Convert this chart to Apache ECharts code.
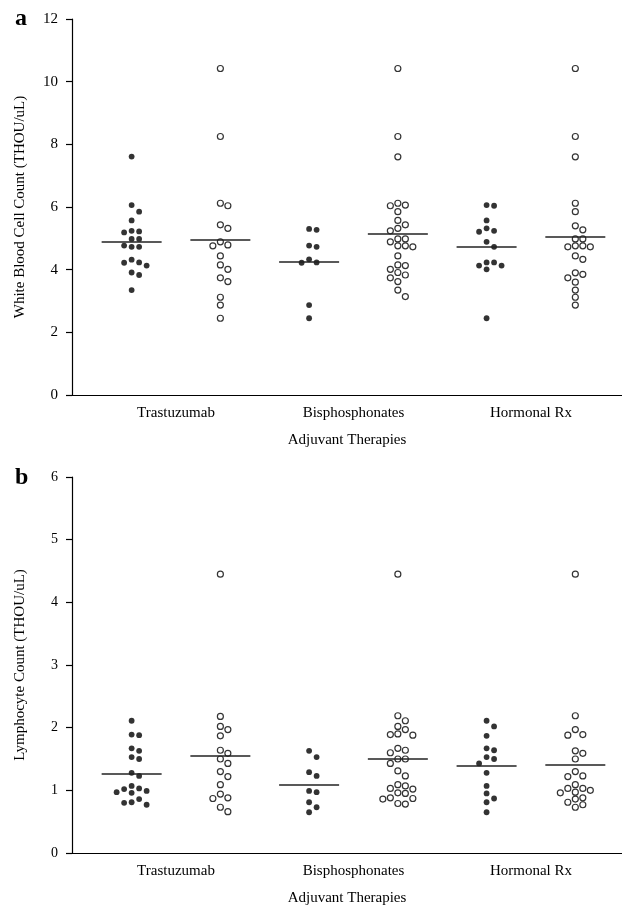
<!DOCTYPE html>
<html>
<head>
<meta charset="utf-8">
<script src="https://cdn.jsdelivr.net/npm/echarts@6/dist/echarts.min.js"></script>
<style>
  html, body { margin: 0; padding: 0; background: #fff; }
  #main { width: 622px; height: 911px; }
</style>
</head>
<body>
<div id="main"></div>
<script>
// categories
const cats = ['Trastuzumab', 'Bisphosphonates', 'Hormonal Rx'];

// panel a: white blood cell count (THOU/uL), filled = on therapy, open = not
const wbcTrasFilled = [7.61, 6.06, 5.85, 5.57, 5.24, 5.22, 5.19, 4.98, 4.98, 4.77, 4.73, 4.73, 4.32, 4.23, 4.22, 4.13, 3.91, 3.83, 3.35];
const wbcTrasOpen = [10.42, 8.25, 6.12, 6.04, 5.43, 5.32, 4.89, 4.79, 4.76, 4.44, 4.15, 4.01, 3.74, 3.62, 3.12, 2.87, 2.45];
const wbcBisFilled = [5.3, 5.27, 4.77, 4.73, 4.33, 4.23, 4.22, 2.87, 2.45];
const wbcBisOpen = [10.42, 8.25, 7.6, 6.12, 6.06, 6.04, 5.85, 5.57, 5.43, 5.32, 5.24, 4.98, 4.98, 4.89, 4.76, 4.76, 4.73, 4.44, 4.15, 4.13, 4.01, 3.91, 3.83, 3.74, 3.62, 3.35, 3.14];
const wbcHorFilled = [6.06, 6.04, 5.57, 5.32, 5.24, 5.21, 4.89, 4.73, 4.23, 4.23, 4.13, 4.13, 4.01, 2.45];
const wbcHorOpen = [10.42, 8.25, 7.6, 6.12, 5.85, 5.4, 5.27, 4.98, 4.98, 4.76, 4.76, 4.73, 4.73, 4.44, 4.33, 3.9, 3.85, 3.74, 3.6, 3.35, 3.12, 2.87];

// panel b: lymphocyte count (THOU/uL)
const lymTrasFilled = [2.11, 1.89, 1.88, 1.67, 1.63, 1.53, 1.5, 1.28, 1.23, 1.07, 1.03, 1.02, 0.99, 0.97, 0.96, 0.86, 0.81, 0.8, 0.77];
const lymTrasOpen = [4.45, 2.18, 2.02, 1.97, 1.87, 1.64, 1.59, 1.5, 1.43, 1.3, 1.22, 1.09, 0.94, 0.88, 0.87, 0.73, 0.66];
const lymBisFilled = [1.63, 1.53, 1.29, 1.23, 0.99, 0.97, 0.81, 0.73, 0.65];
const lymBisOpen = [4.45, 2.19, 2.11, 2.02, 1.97, 1.9, 1.89, 1.88, 1.67, 1.64, 1.6, 1.5, 1.5, 1.43, 1.31, 1.23, 1.09, 1.07, 1.03, 1.02, 0.96, 0.95, 0.88, 0.87, 0.86, 0.79, 0.78];
const lymHorFilled = [2.11, 2.02, 1.87, 1.67, 1.64, 1.53, 1.5, 1.43, 1.28, 1.07, 0.95, 0.87, 0.81, 0.65];
const lymHorOpen = [4.45, 2.19, 1.97, 1.89, 1.88, 1.63, 1.59, 1.5, 1.3, 1.23, 1.22, 1.09, 1.03, 1.03, 1.0, 0.97, 0.96, 0.88, 0.86, 0.81, 0.77, 0.73];

const yTicksA = [0, 12, 2];   // min, max, interval
const yTicksB = [0, 6, 1];

const FONT = 'Liberation Serif';
const gridH = 376;
const unitX = 177.5;          // px per category step
const xMin = -0.586, xMax = 2.513;

// simple beeswarm: spread dots sideways so they don't overlap
function swarm(values, center, pxPerY) {
  const slot = 7.5, minDist = 6.6;
  const placed = [];
  return values.map(v => {
    const y = v * pxPerY;
    for (let k = 0; k < 30; k++) {
      const s = k === 0 ? 0 : (k % 2 ? (k + 1) / 2 : -k / 2);
      const x = s * slot;
      if (placed.every(p => Math.hypot(p[0] - x, p[1] - y) >= minDist)) {
        placed.push([x, y]);
        return [center + x / unitX, v];
      }
    }
  });
}

function mean(arr) {
  return arr.reduce((a, b) => a + b, 0) / arr.length;
}

function group(values, center, filled, gridIdx, pxPerY) {
  const m = mean(values);
  const half = 30 / unitX;
  return {
    type: 'scatter',
    xAxisIndex: gridIdx,
    yAxisIndex: gridIdx,
    symbol: 'circle',
    symbolSize: filled ? 5.8 : 6,
    itemStyle: filled
      ? { color: '#000' }
      : { color: '#fff', borderColor: '#000', borderWidth: 1.2 },
    data: swarm(values, center, pxPerY),
    markLine: {
      silent: true,
      symbol: ['none', 'none'],
      label: { show: false },
      lineStyle: { color: '#222', width: 1.5, type: 'solid' },
      data: [[{ coord: [center - half, m] }, { coord: [center + half, m] }]]
    },
    animation: false
  };
}

const pxA = gridH / (yTicksA[1] - yTicksA[0]);
const pxB = gridH / (yTicksB[1] - yTicksB[0]);

const panelA = [[wbcTrasFilled, wbcTrasOpen], [wbcBisFilled, wbcBisOpen], [wbcHorFilled, wbcHorOpen]];
const panelB = [[lymTrasFilled, lymTrasOpen], [lymBisFilled, lymBisOpen], [lymHorFilled, lymHorOpen]];

let series = [];
panelA.forEach((pair, i) => {
  series.push(group(pair[0], i - 0.25, true, 0, pxA));
  series.push(group(pair[1], i + 0.25, false, 0, pxA));
});
panelB.forEach((pair, i) => {
  series.push(group(pair[0], i - 0.25, true, 1, pxB));
  series.push(group(pair[1], i + 0.25, false, 1, pxB));
});

function xAxis(gridIdx) {
  return {
    type: 'value',
    gridIndex: gridIdx,
    min: xMin,
    max: xMax,
    axisLine: { show: true, onZero: false, lineStyle: { color: '#000', width: 1.2 } },
    axisTick: { show: false },
    splitLine: { show: false },
    axisLabel: {
      customValues: [0, 1, 2],
      formatter: v => cats[Math.round(v)],
      color: '#000', fontFamily: FONT, fontSize: 15, margin: 11
    },
    name: 'Adjuvant Therapies',
    nameLocation: 'middle',
    nameGap: 38,
    nameTextStyle: { color: '#000', fontFamily: FONT, fontSize: 15 }
  };
}

function yAxis(gridIdx, t, name, fs) {
  return {
    type: 'value',
    gridIndex: gridIdx,
    min: t[0], max: t[1], interval: t[2],
    axisLine: { show: true, onZero: false, lineStyle: { color: '#000', width: 1.2 } },
    axisTick: { show: true, length: 6, lineStyle: { color: '#000', width: 1.2 } },
    splitLine: { show: false },
    axisLabel: { color: '#000', fontFamily: FONT, fontSize: fs, margin: 14 },
    name: name,
    nameLocation: 'middle',
    nameGap: 44,
    nameTextStyle: { color: '#000', fontFamily: FONT, fontSize: 15 }
  };
}

const chart = echarts.init(document.getElementById('main'), null, { renderer: 'canvas' });
chart.setOption({
  backgroundColor: '#fff',
  animation: false,
  grid: [
    { left: 72, top: 19, width: 550, height: gridH },
    { left: 72, top: 477, width: 550, height: gridH }
  ],
  xAxis: [xAxis(0), xAxis(1)],
  yAxis: [
    yAxis(0, yTicksA, 'White Blood Cell Count (THOU/uL)', 15),
    yAxis(1, yTicksB, 'Lymphocyte Count (THOU/uL)', 14)
  ],
  graphic: [
    { type: 'text', left: 15, top: 7, style: { text: 'a', font: 'bold 24px "Liberation Serif"', fill: '#000' } },
    { type: 'text', left: 15, top: 466, style: { text: 'b', font: 'bold 24px "Liberation Serif"', fill: '#000' } }
  ],
  series: series
});
</script>
</body>
</html>
